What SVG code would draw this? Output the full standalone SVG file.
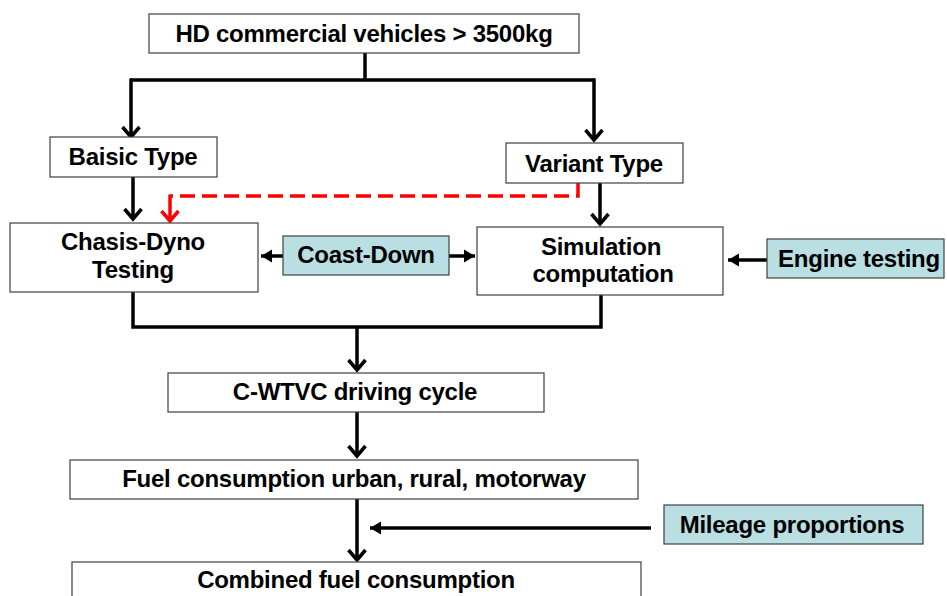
<svg xmlns="http://www.w3.org/2000/svg" width="947" height="596" viewBox="0 0 947 596">
  <style>
    .box { fill: #ffffff; stroke: #404040; stroke-width: 1.2; }
    .inp { fill: #b9dfe2; stroke: #404040; stroke-width: 1.2; }
    .lbl { font-family: "Liberation Sans", Arial, sans-serif; font-weight: bold; font-size: 24px; fill: #000; text-anchor: middle; letter-spacing: -0.25px; }
    .wire { fill: none; stroke: #000; stroke-width: 3.5; stroke-linejoin: miter; }
    .dash { fill: none; stroke: #ff0000; stroke-width: 3.5; stroke-dasharray: 15 7; }
  </style>
  <defs>
    <marker id="vhead" markerUnits="userSpaceOnUse" markerWidth="24" markerHeight="24" viewBox="-12 -12 24 24" refX="0" refY="0" orient="auto" overflow="visible">
      <path d="M-10,-8.5 L0,0 L-10,8.5" fill="none" stroke="#000" stroke-width="3.5"/>
    </marker>
    <marker id="vhead-red" markerUnits="userSpaceOnUse" markerWidth="24" markerHeight="24" viewBox="-12 -12 24 24" refX="0" refY="0" orient="auto" overflow="visible">
      <path d="M-10,-8.5 L0,0 L-10,8.5" fill="none" stroke="#ff0000" stroke-width="3.5"/>
    </marker>
    <marker id="tri" markerUnits="userSpaceOnUse" markerWidth="20" markerHeight="20" viewBox="-12 -10 14 20" refX="0" refY="0" orient="auto" overflow="visible">
      <path d="M0,0 L-11,-6.5 L-11,6.5 Z" fill="#000"/>
    </marker>
  </defs>

  <g id="connectors">
    <!-- split from the top node -->
    <path class="wire" d="M365,53 V80 M130,80 H595"/>
    <path class="wire" d="M131,78.5 V137" marker-end="url(#vhead)"/>
    <path class="wire" d="M594,78.5 V140" marker-end="url(#vhead)"/>
    <!-- type to test route -->
    <path class="wire" d="M133,177 V219" marker-end="url(#vhead)"/>
    <path class="wire" d="M600,183 V224" marker-end="url(#vhead)"/>
    <!-- red dashed shortcut from variant to chassis dyno -->
    <path class="dash" d="M578,183 V196 H170"/>
    <path fill="none" stroke="#ff0000" stroke-width="3.5" d="M170,194.5 V221" marker-end="url(#vhead-red)"/>
    <!-- coast-down feeds both branches -->
    <path class="wire" d="M283,256 H261" marker-end="url(#tri)"/>
    <path class="wire" d="M449,256 H475" marker-end="url(#tri)"/>
    <!-- engine testing feeds simulation -->
    <path class="wire" d="M767,260 H728" marker-end="url(#tri)"/>
    <!-- merge into driving cycle -->
    <path class="wire" d="M133,292 V327 H601 V295"/>
    <path class="wire" d="M357,327 V370" marker-end="url(#vhead)"/>
    <path class="wire" d="M357,412 V456" marker-end="url(#vhead)"/>
    <path class="wire" d="M357,499 V560" marker-end="url(#vhead)"/>
    <!-- mileage proportions -->
    <path class="wire" d="M651,528 H370" marker-end="url(#tri)"/>
  </g>

  <g id="hd-vehicles">
    <rect class="box" x="149" y="14" width="430" height="39"/>
    <text class="lbl" x="364" y="42">HD commercial vehicles &gt; 3500kg</text>
  </g>
  <g id="basic-type">
    <rect class="box" x="50" y="137" width="167" height="40"/>
    <text class="lbl" x="133" y="165">Baisic Type</text>
  </g>
  <g id="variant-type">
    <rect class="box" x="506" y="143" width="177" height="40"/>
    <text class="lbl" x="594" y="172">Variant Type</text>
  </g>
  <g id="chassis-dyno">
    <rect class="box" x="10" y="223" width="248" height="69"/>
    <text class="lbl" x="133" y="250">Chasis-Dyno</text>
    <text class="lbl" x="133" y="278">Testing</text>
  </g>
  <g id="coast-down">
    <rect class="inp" x="283" y="236" width="166" height="39"/>
    <text class="lbl" x="366" y="263">Coast-Down</text>
  </g>
  <g id="simulation">
    <rect class="box" x="477" y="227" width="246" height="68"/>
    <text class="lbl" x="601" y="255">Simulation</text>
    <text class="lbl" x="603" y="282">computation</text>
  </g>
  <g id="engine-testing">
    <rect class="inp" x="767" y="239" width="177" height="39"/>
    <text class="lbl" x="859" y="267">Engine testing</text>
  </g>
  <g id="driving-cycle">
    <rect class="box" x="168" y="373" width="376" height="39"/>
    <text class="lbl" x="355" y="400">C-WTVC driving cycle</text>
  </g>
  <g id="fuel-split">
    <rect class="box" x="70" y="460" width="568" height="39"/>
    <text class="lbl" x="354" y="487">Fuel consumption urban, rural, motorway</text>
  </g>
  <g id="mileage">
    <rect class="inp" x="664" y="505" width="259" height="39"/>
    <text class="lbl" x="792" y="533">Mileage proportions</text>
  </g>
  <g id="combined">
    <rect class="box" x="72" y="562" width="569" height="40"/>
    <text class="lbl" x="356" y="588">Combined fuel consumption</text>
  </g>
</svg>
